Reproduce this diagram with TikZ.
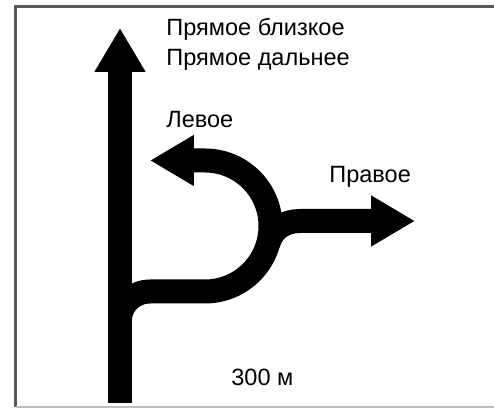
\documentclass[tikz,border=0pt]{standalone}
\usepackage{fontspec}
\setmainfont{Liberation Sans}
\usepackage{tikz}
\usetikzlibrary{arrows.meta, positioning}
\colorlet{framegray}{black!65}
\colorlet{framelight}{black!25}
\tikzset{
  road/.style={line width=0.48cm, black, -{Triangle[length=0.88cm, width=0.96cm]}},
  sign/.style={anchor=base west, inner sep=0pt, font=\fontsize{13.4}{15}\selectfont}
}

\begin{document}
\begin{tikzpicture}[x=0.02cm, y=0.02cm]
    \useasboundingbox (0,0) rectangle (494,408);
    % frame, cut off on the right
    \draw[framegray, line width=0.06cm] (494,401.5) -- (15.5,401.5) -- (15.5,1);
    \draw[framelight, line width=0.03cm] (15.5,0.8) -- (494,0.8);
    % points of the roads
    \coordinate (foot) at (120,5);
    \coordinate (ahead) at (120,380);
    \coordinate (fork) at (120,88);
    \coordinate (bend) at (205,116.5);
    \coordinate (lefttip) at (150,247.5);
    \coordinate (rjoin) at (268.3,164.5);
    \coordinate (rbend) at (300,187);
    \coordinate (righttip) at (415,187);
    \draw[road] (fork) to[out=90, in=180] (150,116.5) -- (bend)
        arc[start angle=-90, end angle=90, radius=65.5] -- (lefttip);
    \draw[road] (rjoin) to[out=75, in=180] (rbend) -- (righttip);
    \draw[road] (foot) -- (ahead);
    % labels
    \node[sign] (near) at (166,372) {Прямое близкое};
    \node[sign] (far) at (166,342) {Прямое дальнее};
    \node[sign] (left) at (166,280) {Левое};
    \node[sign] (right) at (329,225) {Правое};
    \node[sign] (dist) at (231,22) {300 м};
\end{tikzpicture}
\end{document}
